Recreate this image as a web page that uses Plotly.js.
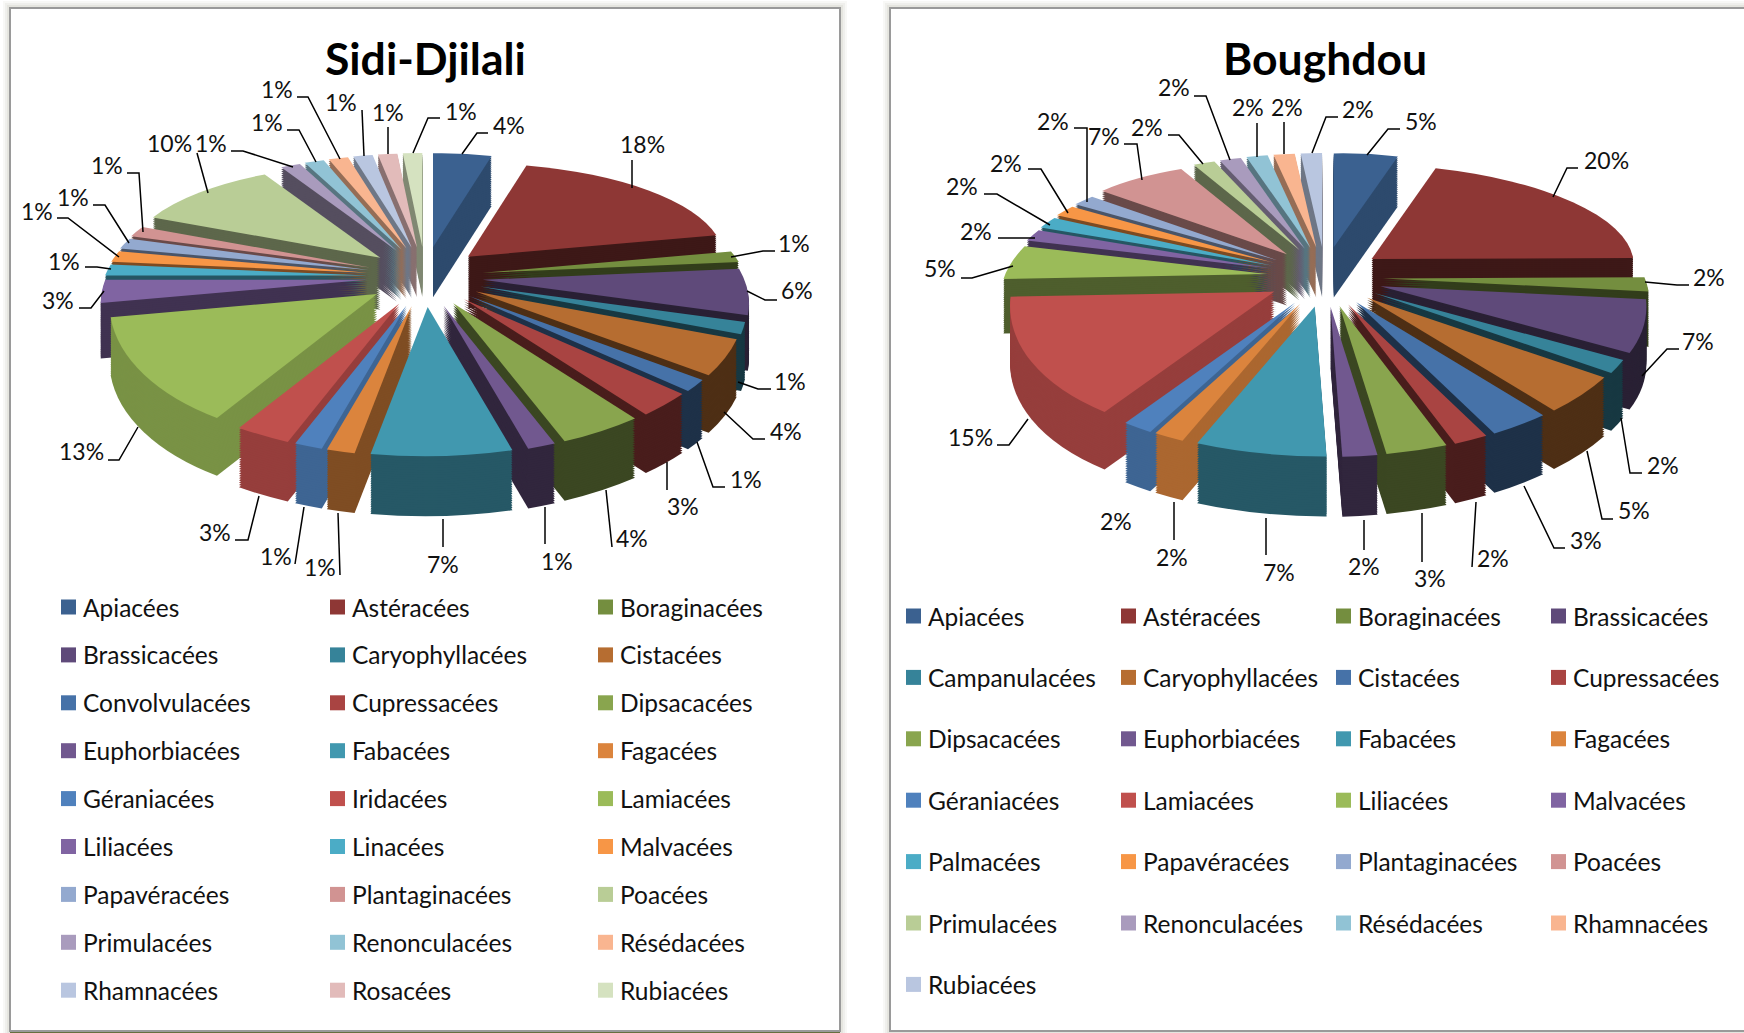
<!DOCTYPE html>
<html><head><meta charset="utf-8">
<script src="https://cdn.plot.ly/plotly-3.0.1.min.js"></script>
<style>html,body{margin:0;padding:0;background:#fff;overflow:hidden}#c{width:1744px;height:1033px}</style>
</head><body><div id="c"></div>
<script>
// ---------- data (percent of species per family)
const titleA = 'Sidi-Djilali';
const labelsA = ['Apiacées','Astéracées','Boraginacées','Brassicacées','Caryophyllacées','Cistacées','Convolvulacées','Cupressacées','Dipsacacées','Euphorbiacées','Fabacées','Fagacées','Géraniacées','Iridacées','Lamiacées','Liliacées','Linacées','Malvacées','Papavéracées','Plantaginacées','Poacées','Primulacées','Renonculacées','Résédacées','Rhamnacées','Rosacées','Rubiacées'];
const valuesA = [4.41,17.65,1.47,5.88,1.47,4.41,1.47,2.94,4.41,1.47,7.35,1.47,1.47,2.94,13.24,2.94,1.47,1.47,1.47,1.47,10.29,1.47,1.47,1.47,1.47,1.47,1.47];

const titleB = 'Boughdou';
const labelsB = ['Apiacées','Astéracées','Boraginacées','Brassicacées','Campanulacées','Caryophyllacées','Cistacées','Cupressacées','Dipsacacées','Euphorbiacées','Fabacées','Fagacées','Géraniacées','Lamiacées','Liliacées','Malvacées','Palmacées','Papavéracées','Plantaginacées','Poacées','Primulacées','Renonculacées','Résédacées','Rhamnacées','Rubiacées'];
const valuesB = [4.8,19.9,1.8,6.5,1.6,4.5,3.2,1.8,3.2,1.8,6.8,1.6,1.6,14.8,4.5,1.6,1.6,1.6,1.6,6.6,1.6,1.6,1.6,1.6,1.6];

const palette = ['#3B6190','#8E3735','#748E3F','#5F4A7A','#368399','#B66D31','#4672A8','#A94442','#89A54E','#71588F','#4198AF','#DB843D','#4F81BD','#C0504D','#9BBB59','#8064A2','#4BACC6','#F79646','#93A9CF','#D19392','#B9CD96','#A99BBD','#91C3D5','#F9B590','#B9C6E0','#E2BBBA','#D5E2C0'];

// ---------- layout of the percentage labels (page pixels) : text centre, then leader polyline
const textPosA = [[509,125],[642,144],[794,243],[797,290],[790,381],[786,431],[746,479],[683,506],[632,538],[557,561],[443,564],[320,567],[276,556],[215,532],[81,451],[58,300],[64,261],[37,211],[73,197],[107,165],[169,143],[211,143],[267,122],[277,89],[341,102],[388,112],[461,111]];
const leadA = [[[462,154],[477,133],[488,133]],[[632,188],[632,160]],[[731,257],[763,251],[775,251]],[[747,291],[765,300],[777,300]],[[738,382],[758,389],[771,389]],[[724,412],[753,439],[765,439]],[[697,442],[713,487],[725,487]],[[667,462],[667,490]],[[606,490],[612,547]],[[545,507],[545,544]],[[443,519],[443,547]],[[338,513],[340,575]],[[304,507],[295,564]],[[259,496],[248,540],[235,540]],[[138,427],[119,460],[108,460]],[[104,291],[91,308],[79,308]],[[111,269],[97,267],[85,267]],[[119,257],[68,218],[57,218]],[[129,243],[105,205],[93,205]],[[143,232],[139,173],[127,173]],[[208,193],[197,153]],[[293,167],[243,151],[231,151]],[[316,162],[299,130],[287,130]],[[340,159],[308,97],[297,97]],[[364,156],[362,110]],[[388,154],[388,127]],[[413,153],[428,118],[440,118]]];
const textPosB = [[1421,121],[1606,160],[1709,277],[1698,341],[1663,465],[1634,510],[1586,540],[1493,558],[1430,578],[1364,566],[1279,572],[1172,557],[1116,521],[970,437],[940,268],[976,231],[962,186],[1006,163],[1053,121],[1104,136],[1147,127],[1174,87],[1248,107],[1287,107],[1358,109]];
const leadB = [[[1367,155],[1388,129],[1400,129]],[[1553,197],[1567,168],[1578,168]],[[1645,282],[1677,285],[1689,285]],[[1642,376],[1667,349],[1679,349]],[[1621,418],[1630,473],[1642,473]],[[1587,451],[1602,519],[1613,519]],[[1524,486],[1554,548],[1565,548]],[[1476,502],[1472,567]],[[1422,513],[1422,562]],[[1364,520],[1364,550]],[[1266,518],[1266,555]],[[1174,502],[1174,540]],[],[[1028,419],[1009,445],[997,445]],[[1013,266],[972,278],[961,278]],[[1035,238],[998,238]],[[1050,225],[997,194],[984,194]],[[1068,213],[1041,169],[1028,169]],[[1087,202],[1087,128],[1074,128]],[[1142,180],[1137,144],[1124,144]],[[1203,164],[1179,135],[1168,135]],[[1230,160],[1206,96],[1194,96]],[[1257,157],[1257,123]],[[1284,154],[1284,122]],[[1312,153],[1326,117],[1338,117]]];

const W = 1744, H = 1033, FONT = 'Lato, "Open Sans", sans-serif', LAYERS = 26;
const px = x => x / W, py = y => 1 - y / H;

function angles(vals){
  const tot = vals.reduce((a,b)=>a+b,0); let c = 0;
  return vals.map(v=>{const a0=c/tot*2*Math.PI; c+=v; const a1=c/tot*2*Math.PI; return {a0,a1,mid:(a0+a1)/2};});
}
function shade(hex,f){
  const n=parseInt(hex.slice(1),16);
  return 'rgb('+[(n>>16)&255,(n>>8)&255,n&255].map(c=>Math.round(c*f)).join(',')+')';
}
function wallFactor(t){ // how dark the side wall of a slice looks, by its direction
  const d=t*180/Math.PI;
  if(d<30) return .76;
  if(d<175) return .43;
  if(d<195) return .58;
  if(d<262) return .78;
  if(d<335) return .5;
  return .6;
}
const rimX = t => 262*(1-.19*Math.cos(t));   // perspective: the near rim is wider than the far rim
const rimY = t => 122*(1-.23*Math.cos(t));

const panels = [
 {labels:labelsA,values:valuesA,legend:'legend',group:'A',cx:425,cy:277,domain:{x:[.05,.4],y:[.45,.95]},cols:[61,330,598],y0:607,dy:47.9,title:titleA,textPos:textPosA,lead:leadA},
 {labels:labelsB,values:valuesB,legend:'legend2',group:'B',cx:1325,cy:277,domain:{x:[.55,.9],y:[.45,.95]},cols:[906,1121,1336,1551],y0:616,dy:61.4,title:titleB,textPos:textPosB,lead:leadB}
];

const traces = [], meta = [];
panels.forEach(p=>{
  const ang = angles(p.values);
  const cols = p.labels.map((_,i)=>palette[i]);
  for(let l=LAYERS;l>=0;l--){
    const top = l===0;
    traces.push({type:'pie',labels:p.labels,values:p.values,sort:false,direction:'clockwise',rotation:0,
      domain:p.domain,pull:0.2,textinfo:'none',hoverinfo:top?'label+percent':'skip',legend:p.legend,legendgroup:p.group,showlegend:top,
      marker:{colors:top?cols:cols.map((c,i)=>shade(c,wallFactor(ang[i].mid))),line:{width:0}}});
    meta.push({panel:p,ang,t:l/LAYERS});
  }
});

const shapes = [], annotations = [];
[[10,840],[890,1760]].forEach(([a,b])=>{
  [[7,.05],[5,.06],[3,.08]].forEach(([g,o])=>shapes.push({type:'rect',xref:'paper',yref:'paper',layer:'below',
    x0:px(a-g),x1:px(b+g),y0:py(8-g),y1:py(1031+g),fillcolor:'rgba(110,110,80,'+o+')',line:{width:0}}));
  shapes.push({type:'rect',xref:'paper',yref:'paper',layer:'below',x0:px(a),x1:px(b),y0:py(8),y1:py(1031),
    fillcolor:'#fff',line:{color:'#9a9a9a',width:2}});
});
shapes.push({type:'rect',xref:'paper',yref:'paper',layer:'below',x0:px(10),x1:px(840),y0:py(1032),y1:py(1033),fillcolor:'#66703f',line:{width:0}});
panels.forEach(p=>{
  annotations.push({xref:'paper',yref:'paper',x:px(p.cx),y:py(57),text:'<b>'+p.title+'</b>',showarrow:false,xanchor:'center',yanchor:'middle',font:{family:FONT,size:44.5,color:'#000'}});
  p.values.forEach((v,i)=>{
    annotations.push({xref:'paper',yref:'paper',x:px(p.textPos[i][0]),y:py(p.textPos[i][1]),text:Math.round(v)+'%',showarrow:false,xanchor:'center',yanchor:'middle',font:{family:FONT,size:23,color:'#111'}});
    if(p.lead[i].length) shapes.push({type:'path',xref:'paper',yref:'paper',layer:'above',
      path:p.lead[i].map((q,j)=>(j?'L':'M')+px(q[0])+','+py(q[1])).join(' '),line:{color:'#000',width:1.5}});
  });
});

const legendBase = {bgcolor:'rgba(0,0,0,0)',borderwidth:0,orientation:'v',x:0,y:0,font:{family:FONT,size:24.5,color:'#111'},itemclick:false,itemdoubleclick:false};
const layout = {width:W,height:H,margin:{l:0,r:0,t:0,b:0},paper_bgcolor:'#fff',showlegend:true,
  legend:Object.assign({},legendBase),legend2:Object.assign({},legendBase),shapes,annotations};

function placeLegends(gd){
  panels.forEach(p=>{
    const leg = gd.querySelector('.infolayer g.'+p.legend);
    if(!leg) return;
    leg.setAttribute('transform','translate(0,0)');
    const sb = leg.querySelector('.scrollbox'); if(sb){sb.removeAttribute('clip-path');sb.setAttribute('transform','translate(0,0)');}
    const bar = leg.querySelector('.scrollbar'); if(bar) bar.style.display='none';
    leg.querySelectorAll('.groups').forEach(g=>g.setAttribute('transform','translate(0,0)'));
    const n = p.cols.length;
    leg.querySelectorAll('.traces').forEach((t,i)=>{
      t.setAttribute('transform','translate('+p.cols[i%n]+','+(p.y0+p.dy*Math.floor(i/n))+')');
      const sym = t.querySelector('.legendpoints path');
      if(sym){sym.setAttribute('d','M0,-7.5H15V7.5H0Z');sym.setAttribute('transform','translate(0,0)');}
      const lp = t.querySelector('.legendpoints'); if(lp) lp.setAttribute('transform','translate(0,0)');
      const tx = t.querySelector('text');
      if(tx) tx.setAttribute('x',22);
    });
  });
}

Plotly.newPlot('c',traces,layout,{displayModeBar:false}).then(gd=>{
  // perspective: each slice is mapped so that its tip and both rim corners land on the tilted pie
  gd.querySelectorAll('.pielayer .trace').forEach((g,ti)=>{
    const m = meta[ti], r = gd.calcdata[ti][0].r;
    g.querySelectorAll('.slice').forEach(s=>{
      const pt = s.__data__, an = m.ang[pt.i], c = Math.cos(an.mid), sn = Math.sin(an.mid);
      const Tx = m.panel.cx + 58*sn, Ty = m.panel.cy - 30*c + (55-5*c)*m.t;
      const u1=[Math.sin(an.a0)*r,-Math.cos(an.a0)*r], u2=[Math.sin(an.a1)*r,-Math.cos(an.a1)*r];
      const v1=[Math.sin(an.a0)*rimX(an.a0),-Math.cos(an.a0)*rimY(an.a0)], v2=[Math.sin(an.a1)*rimX(an.a1),-Math.cos(an.a1)*rimY(an.a1)];
      const det=u1[0]*u2[1]-u1[1]*u2[0];
      const a=(v1[0]*u2[1]-v2[0]*u1[1])/det, cc=(v2[0]*u1[0]-v1[0]*u2[0])/det;
      const b=(v1[1]*u2[1]-v2[1]*u1[1])/det, d=(v2[1]*u1[0]-v1[1]*u2[0])/det;
      const path = s.querySelector('path.surface');
      if(path) path.setAttribute('transform','translate('+Tx+','+Ty+') matrix('+[a,b,cc,d,0,0].join(' ')+') translate('+(-pt.cxFinal)+','+(-pt.cyFinal)+')');
    });
  });
  placeLegends(gd);
  setTimeout(()=>placeLegends(gd),30);
});
</script></body></html>
